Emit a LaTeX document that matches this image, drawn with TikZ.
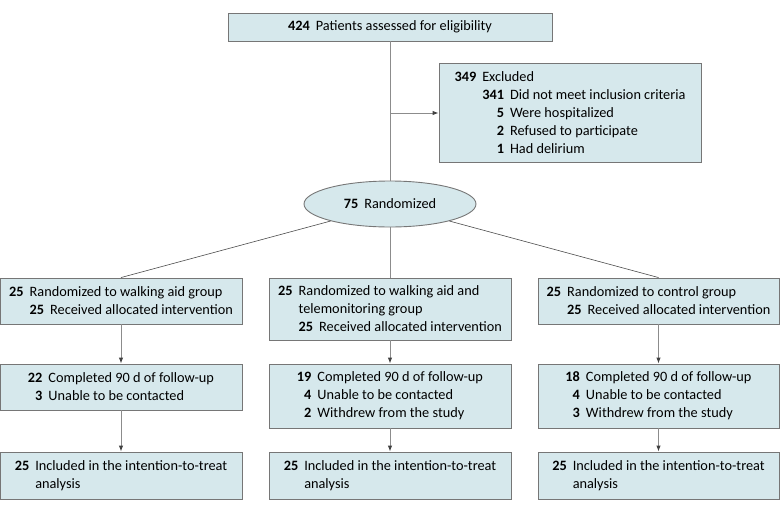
\documentclass[tikz,border=0pt]{standalone}
\usepackage{fontspec}
\setmainfont{Carlito}
\usepackage{tikz}
\usetikzlibrary{arrows.meta,shapes.geometric}
\definecolor{flowfill}{RGB}{214,232,236}
\definecolor{flowdraw}{RGB}{118,118,118}
\definecolor{flowline}{RGB}{140,140,140}
% number right-aligned in a column of the width of #1, then the text
\newcommand{\cnum}[2][00]{{\bfseries\hphantom{#1}\llap{#2}}\hspace{0.42em}}
\newcommand{\cind}[1][00]{{\bfseries\hphantom{#1}}\hspace{0.42em}}
\tikzset{
  fbox/.style={rectangle, draw=flowdraw, fill=flowfill, line width=0.9pt,
               align=left, inner sep=0pt, font=\fontsize{14.3}{18}\selectfont},
  frand/.style={ellipse, draw=flowdraw, fill=flowfill, line width=0.9pt,
                minimum width=172pt, minimum height=46pt, inner sep=0pt,
                font=\fontsize{14.3}{18}\selectfont},
  fline/.style={line width=0.9pt, flowline},
  fslant/.style={line width=0.6pt, black!70},
  farrow/.style={fline, -{Latex[length=6pt,width=4.5pt,color=black!75]}},
}
\begin{document}
\begin{tikzpicture}[x=1pt, y=-1pt,
    wide/.style={fbox, minimum width=242pt}]
  \useasboundingbox (0,0) rectangle (780,512);
  % screening
  \node[fbox, minimum width=324pt, minimum height=28pt] (screen) at (390,27)
    {\cnum[000]{424}Patients assessed for eligibility};
  \node[fbox, minimum width=262pt, minimum height=99pt] (excl) at (570,112.5)
    {\cnum[000]{349}Excluded\\
     \cind[000]\cnum[000]{341}Did not meet inclusion criteria\\
     \cind[000]\cnum[000]{5}Were hospitalized\\
     \cind[000]\cnum[000]{2}Refused to participate\\
     \cind[000]\cnum[000]{1}Had delirium};
  \node[frand] (rand) at (390,204) {\cnum{75}Randomized};
  \coordinate (split) at (390,113);
  % allocation
  \node[wide, minimum height=46pt] (r1a) at (121,301)
    {\cnum{25}Randomized to walking aid group\\
     \cind\cnum{25}Received allocated intervention};
  \node[wide, minimum height=62pt] (r1b) at (390,309)
    {\cnum{25}Randomized to walking aid and\\
     \cind telemonitoring group\\
     \cind\cnum{25}Received allocated intervention};
  \node[wide, minimum height=46pt, minimum width=241pt] (r1c) at (658.5,301)
    {\cnum{25}Randomized to control group\\
     \cind\cnum{25}Received allocated intervention};
  % follow-up
  \node[wide, minimum height=46pt] (r2a) at (121,387)
    {\cnum{22}Completed 90 d of follow-up\\
     \cnum{3}Unable to be contacted};
  \node[wide, minimum height=64pt] (r2b) at (390,396)
    {\cnum{19}Completed 90 d of follow-up\\
     \cnum{4}Unable to be contacted\\
     \cnum{2}Withdrew from the study};
  \node[wide, minimum height=64pt, minimum width=241pt] (r2c) at (658.5,396)
    {\cnum{18}Completed 90 d of follow-up\\
     \cnum{4}Unable to be contacted\\
     \cnum{3}Withdrew from the study};
  % analysis
  \node[wide, minimum height=47pt] (r3a) at (121,475.5)
    {\cnum{25}Included in the intention-to-treat\\
     \cind analysis};
  \node[wide, minimum height=47pt] (r3b) at (390,475.5)
    {\cnum{25}Included in the intention-to-treat\\
     \cind analysis};
  \node[wide, minimum height=47pt, minimum width=241pt] (r3c) at (658.5,475.5)
    {\cnum{25}Included in the intention-to-treat\\
     \cind analysis};
  % connectors
  \draw[fline] (screen) -- (rand);
  \draw[farrow] (split) -- (split -| excl.west);
  \draw[fline] (rand) -- (r1b);
  \draw[fslant] (rand.196) -- (r1a.north);
  \draw[fslant] (rand.-16) -- (r1c.north);
  \foreach \c in {a,b,c} {
    \draw[farrow] (r1\c) -- (r2\c);
    \draw[farrow] (r2\c) -- (r3\c);
  }
\end{tikzpicture}
\end{document}
